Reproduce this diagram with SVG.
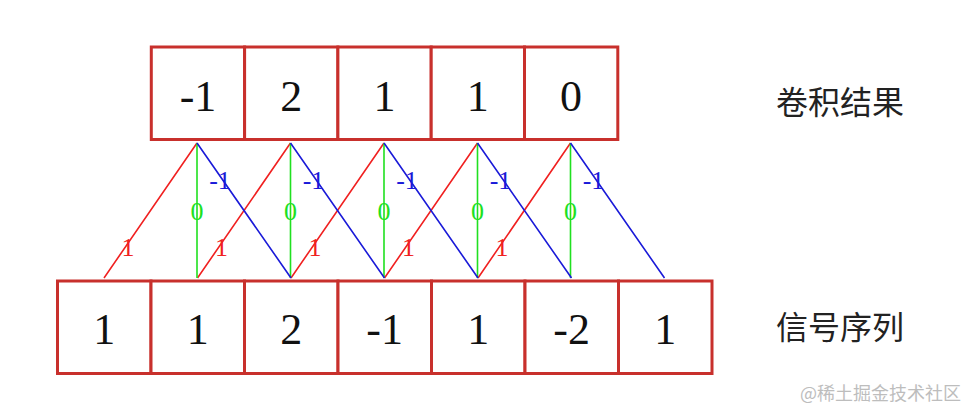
<svg xmlns="http://www.w3.org/2000/svg" width="976" height="416" viewBox="0 0 976 416">
<style>
.cell{fill:#fff;stroke:#c8302c;stroke-width:3}
.num{font-family:"Liberation Serif","DejaVu Serif",serif;font-size:44px;fill:#111;text-anchor:middle}
.lab{font-family:"Liberation Serif","DejaVu Serif",serif;font-size:26px;text-anchor:middle}
.cn{font-family:"Noto Sans CJK SC","Liberation Sans",sans-serif;font-size:32px;fill:#222}
.r{stroke:#f02020;stroke-width:1.6;fill:none}
.g{stroke:#20e020;stroke-width:1.6;fill:none}
.b{stroke:#1a1ad8;stroke-width:1.6;fill:none}
</style>
<rect width="976" height="416" fill="#fff"/>
<g id="result">
<g id="r0"><rect class="cell" x="151.3" y="47" width="93.3" height="92.5"/><text class="num" x="198" y="111">-1</text></g>
<g id="r1"><rect class="cell" x="244.6" y="47" width="93.3" height="92.5"/><text class="num" x="291.2" y="111">2</text></g>
<g id="r2"><rect class="cell" x="337.9" y="47" width="93.3" height="92.5"/><text class="num" x="384.5" y="111">1</text></g>
<g id="r3"><rect class="cell" x="431.2" y="47" width="93.3" height="92.5"/><text class="num" x="477.8" y="111">1</text></g>
<g id="r4"><rect class="cell" x="524.5" y="47" width="93.3" height="92.5"/><text class="num" x="571" y="111">0</text></g>
</g>
<g id="signal">
<g id="s0"><rect class="cell" x="57.5" y="281" width="93.5" height="92.5"/><text class="num" x="104.2" y="344">1</text></g>
<g id="s1"><rect class="cell" x="151" y="281" width="93.5" height="92.5"/><text class="num" x="197.7" y="344">1</text></g>
<g id="s2"><rect class="cell" x="244.5" y="281" width="93.5" height="92.5"/><text class="num" x="291.2" y="344">2</text></g>
<g id="s3"><rect class="cell" x="338" y="281" width="93.5" height="92.5"/><text class="num" x="384.7" y="344">-1</text></g>
<g id="s4"><rect class="cell" x="431.5" y="281" width="93.5" height="92.5"/><text class="num" x="478.2" y="344">1</text></g>
<g id="s5"><rect class="cell" x="525" y="281" width="93.5" height="92.5"/><text class="num" x="571.7" y="344">-2</text></g>
<g id="s6"><rect class="cell" x="618.5" y="281" width="93.5" height="92.5"/><text class="num" x="665.2" y="344">1</text></g>
</g>
<g id="connectors">
<path class="r" d="M104,278 L197,143 M197.5,278 L290.5,143 M291,278 L384,143 M384.5,278 L477.5,143 M478,278 L570.5,143"/>
<path class="g" d="M197,143 V278 M290.5,143 V278 M384,143 V278 M477.5,143 V278 M570.5,143 V278"/>
<path class="b" d="M197,143 L291,278 M290.5,143 L384.5,278 M384,143 L478,278 M477.5,143 L571.5,278 M570.5,143 L664.5,278"/>
<g class="lab" fill="#f02020">
<text x="128" y="256">1</text><text x="221.5" y="256">1</text><text x="315" y="256">1</text><text x="408.5" y="256">1</text><text x="502" y="256">1</text>
</g>
<g class="lab" fill="#20e020">
<text x="197" y="220">0</text><text x="290.5" y="220">0</text><text x="384" y="220">0</text><text x="477.5" y="220">0</text><text x="570.5" y="220">0</text>
</g>
<g class="lab" fill="#1a1ad8">
<text x="220" y="189">-1</text><text x="313.5" y="189">-1</text><text x="407" y="189">-1</text><text x="500.5" y="189">-1</text><text x="593.5" y="189">-1</text>
</g>
</g>
<text class="cn" x="776" y="114">卷积结果</text>
<text class="cn" x="776" y="339">信号序列</text>
<text x="800" y="400" font-family="Noto Sans CJK SC,Liberation Sans,sans-serif" font-size="18" fill="#bdbdbd">@稀土掘金技术社区</text>
</svg>
